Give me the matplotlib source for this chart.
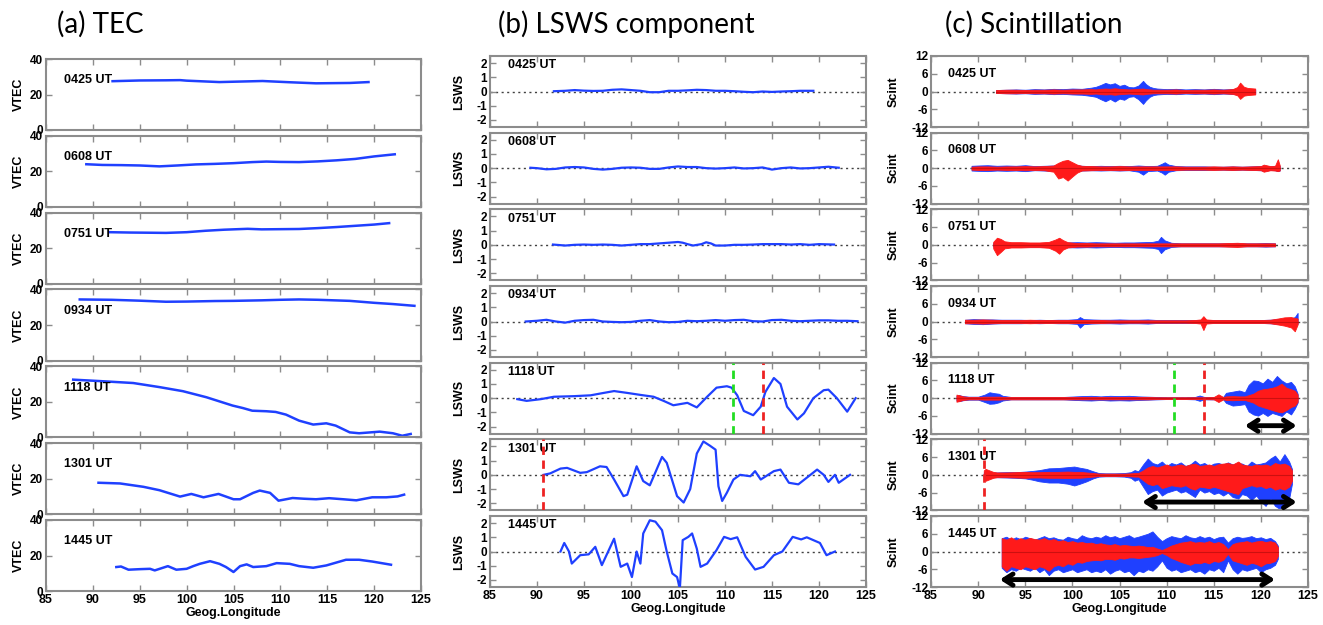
#!/usr/bin/env python

import numpy as np
import matplotlib
matplotlib.use('Agg')
from matplotlib import pyplot as plt

plt.rcParams['font.family'] = ['Liberation Sans', 'DejaVu Sans']
plt.rcParams['font.weight'] = 'bold'
plt.rcParams['axes.labelweight'] = 'bold'
plt.rcParams['font.size'] = 9

W, H = 1323, 625

ut_labels = ['0425 UT', '0608 UT', '0751 UT', '0934 UT', '1118 UT', '1301 UT', '1445 UT']
lon_ticks = [85, 90, 95, 100, 105, 110, 115, 120, 125]

# ---- (a) TEC ----
tec_lon = [
    [92.1, 95, 97.8, 99.3, 100, 103.5, 105, 108.1, 111, 113.8, 117.4, 119.4],
    [89.3, 91, 93, 95, 97.1, 99, 101, 103, 105, 107, 108.5, 110, 112, 114, 116, 118, 120, 122.2],
    [91.8, 94, 96, 97.8, 100, 102, 104, 106.5, 108, 110, 112, 114, 116, 118, 120, 121.6],
    [88.6, 92, 95, 97.8, 100, 103, 105, 108, 110, 112, 114, 117.4, 120, 122, 124.3],
    [87.9, 90.7, 94.3, 97.1, 99.6, 102.1, 104.9, 106, 107.0, 108.5, 109.5, 110.6, 112.0,
     113.5, 114.9, 115.9, 117.4, 118.4, 120.6, 122.0, 123.0, 123.9],
    [90.6, 92.9, 95.4, 97.1, 99.3, 100.5, 101.8, 103.4, 105.0, 105.7, 107.1, 107.8, 108.9,
     109.8, 111.3, 112.5, 113.8, 115.2, 116.7, 118.1, 119.8, 121.3, 122.5, 123.2],
    [92.5, 93.0, 93.8, 95.0, 96.1, 96.6, 98.0, 98.9, 100.0, 100.7, 101.4, 102.5, 103.5, 104.2,
     105.0, 105.7, 106.4, 107.1, 108.5, 109.6, 111.0, 112.0, 113.5, 114.9, 117.0, 118.4, 119.8, 121.8],
]
tec_val = [
    [27.5, 27.9, 28.0, 28.1, 27.8, 27.0, 27.2, 27.6, 26.9, 26.3, 26.5, 27.0],
    [24.0, 23.6, 23.5, 23.3, 22.8, 23.3, 23.9, 24.2, 24.6, 25.2, 25.5, 25.3, 25.2, 25.6, 26.2, 27.0, 28.4, 29.6],
    [29.0, 28.8, 28.7, 28.6, 29.0, 29.8, 30.4, 30.9, 30.6, 30.7, 30.8, 31.3, 31.9, 32.6, 33.3, 34.1],
    [34.4, 34.2, 33.7, 33.1, 33.2, 33.5, 33.6, 33.9, 34.2, 34.4, 34.2, 33.6, 32.5, 31.8, 30.8],
    [32.5, 31.7, 30.6, 28.3, 26.0, 22.6, 17.9, 16.5, 15.0, 14.7, 14.3, 12.8, 9.4,
     7.2, 7.9, 6.6, 2.8, 2.3, 3.2, 2.3, 0.9, 1.9],
    [17.7, 17.3, 15.4, 13.5, 9.9, 11.4, 9.5, 11.4, 8.4, 8.4, 12.0, 13.3, 12.0,
     7.6, 9.1, 8.7, 8.4, 9.0, 8.4, 7.8, 9.5, 9.5, 10.0, 11.0],
    [13.5, 13.8, 12.0, 12.3, 12.5, 11.6, 14.0, 12.0, 12.5, 14.0, 15.3, 16.8, 15.3, 13.5,
     10.7, 14.0, 15.0, 13.5, 14.0, 15.7, 15.3, 14.0, 13.1, 14.4, 17.6, 17.6, 16.6, 14.8],
]

# ---- (b) LSWS component ----
lsws_lon = [
    [91.8, 93, 94, 95, 96, 97, 98, 99, 100, 101, 102, 103, 104, 105, 106, 107, 108, 109, 110,
     111, 112, 113, 114, 115, 116, 117, 118, 119.4],
    [89.3, 90, 91, 92, 93, 94, 95, 96, 97, 98, 99, 100, 101, 102, 103, 104, 105, 106, 107, 108,
     109, 110, 111, 112, 113, 114, 115, 116, 117, 118, 119, 120, 121, 122.1],
    [91.7, 93, 94, 95, 96, 97, 98, 99, 100, 101, 102, 103, 104, 105, 105.5, 106, 106.6, 107.5,
     108, 108.5, 109, 110, 111, 112, 113, 114, 115, 116, 117, 118, 119, 120, 121.6],
    [88.8, 90, 91, 92, 93, 94, 95, 96, 97, 98, 99, 100, 101, 102, 103, 104, 105, 106, 107, 108,
     109, 110, 111, 112, 113, 114, 115, 116, 117, 118, 119, 120, 121, 122, 123, 124.1],
    [87.9, 88.9, 90.4, 91.8, 93.9, 95.7, 97.1, 98.2, 99.6, 101.0, 102.4, 103.5, 104.5, 106.0,
     107.0, 108.1, 109.1, 110.2, 110.7, 111.3, 112.0, 113.0, 113.8, 114.3, 115.2, 115.9, 116.6,
     117.7, 118.4, 119.4, 120.5, 121.0, 121.9, 123.0, 123.9],
    [90.7, 91.4, 92.5, 93.2, 94.6, 95.3, 96.7, 97.4, 98.2, 99.2, 99.6, 100.6, 101.3, 102.0,
     103.3, 103.8, 104.9, 105.6, 106.3, 107.0, 107.7, 108.4, 109.0, 109.3, 109.7, 110.2, 110.9,
     111.6, 112.7, 113.2, 113.8, 115.2, 115.9, 116.8, 117.8, 119.8, 120.5, 121.0, 121.7, 122.1, 123.3],
    [92.5, 92.9, 93.4, 93.7, 94.6, 95.5, 96.2, 96.9, 98.2, 98.9, 99.6, 100.1, 100.6, 101.0,
     101.3, 102.0, 102.6, 103.3, 103.8, 104.4, 104.9, 105.2, 105.5, 106.1, 106.5, 107.0, 107.4,
     108.1, 109.1, 109.9, 110.6, 111.3, 112.2, 113.2, 114.1, 115.2, 116.1, 117.2, 118.1, 118.7,
     119.4, 120.1, 120.8, 121.7],
]
lsws_val = [
    [0.02, 0.05, 0.1, 0.06, 0.04, 0.05, 0.12, 0.15, 0.1, 0.05, -0.05, -0.05, 0.05, 0.05, 0.08,
     0.12, 0.1, 0.05, 0.05, 0.02, -0.02, -0.05, 0.0, -0.03, 0.0, 0.02, 0.05, 0.05],
    [0.03, 0.0, -0.08, -0.05, 0.05, 0.08, 0.05, -0.05, -0.1, -0.05, 0.03, 0.05, 0.03, -0.05,
     -0.05, 0.05, 0.12, 0.08, 0.08, 0.0, -0.03, 0.0, 0.05, -0.02, 0.0, 0.05, -0.1, 0.0, 0.05,
     -0.02, 0.0, 0.05, 0.1, 0.03],
    [0.02, -0.05, 0.0, 0.02, 0.0, 0.02, 0.0, -0.05, 0.0, 0.05, 0.05, 0.1, 0.15, 0.2, 0.15, 0.05,
     -0.05, 0.05, 0.18, 0.1, -0.05, -0.05, 0.0, 0.0, 0.02, 0.05, 0.05, 0.05, 0.02, 0.05, 0.0,
     0.05, 0.02],
    [0.0, 0.05, 0.12, 0.0, -0.08, 0.05, 0.1, 0.12, 0.0, -0.03, -0.05, -0.03, 0.05, 0.1, 0.0,
     -0.05, -0.03, 0.05, 0.02, 0.05, 0.1, 0.05, 0.1, 0.12, 0.02, 0.0, 0.1, 0.12, 0.05, 0.02,
     0.05, 0.08, 0.08, 0.05, 0.05, 0.02],
    [-0.07, -0.19, -0.07, 0.1, 0.14, 0.2, 0.37, 0.5, 0.37, 0.23, 0.1, -0.2, -0.5, -0.33,
     -0.65, 0.1, 0.74, 0.84, 0.74, 0.2, -0.9, -1.2, -0.6, 0.44, 1.42, 1.0, -0.6,
     -1.5, -1.07, 0.0, 0.56, 0.6, 0.0, -0.95, 0.0],
    [0.0, 0.1, 0.44, 0.49, 0.14, 0.19, 0.6, 0.55, -0.33, -1.5, -1.4, 0.6, -0.44, -0.74,
     1.26, 0.85, -1.5, -1.95, -1.0, 1.5, 2.35, 2.05, 1.77, -0.8, -1.84, -1.26, -0.33,
     0.0, -0.1, 0.26, -0.33, 0.26, 0.37, -0.56, -0.67, 0.37, 0.0, -0.5, 0.0, -0.56, 0.0],
    [0.0, 0.6, 0.0, -0.85, -0.26, -0.2, 0.33, -0.96, 0.9, -1.08, -0.85, -1.8, 0.0, -0.85,
     1.27, 2.2, 2.1, 1.5, 0.0, -1.55, -1.8, -2.6, 0.8, 1.03, 1.27, 0.2, -1.08,
     -0.85, 0.1, 1.03, 0.87, 1.0, -0.38, -1.27, -1.08, -0.26, 0.0, 1.03, 0.85, 1.0,
     0.8, 0.6, -0.26, 0.0],
]

# ---- (c) Scintillation: envelopes of the two traces (blue, red), lower as magnitude ----
sc_lon = [
    [91.9, 93, 94, 95, 96, 97, 98, 99, 100, 101,
     102, 102.5, 103, 103.5, 104, 104.5, 105, 105.5, 106, 106.5,
     107, 107.5, 107.8, 108.2, 108.6, 109, 110, 111, 112, 113,
     114, 115, 116, 117, 117.5, 117.8, 118.2, 118.6, 119.4],
    [89.3, 90, 91, 92, 93, 94, 95, 96, 97, 98,
     98.5, 99, 99.5, 100, 100.5, 101, 102, 103, 104, 105,
     106, 107, 107.5, 108, 109, 109.5, 109.8, 110.2, 111, 112,
     113, 114, 115, 116, 117, 118, 119, 120, 120.3, 121,
     121.5, 121.8, 122.0],
    [91.6, 92.0, 92.4, 92.8, 93.5, 94.5, 95.5, 96.5, 97.5, 98.2,
     98.6, 99.0, 99.5, 100.5, 101.5, 102.5, 103.5, 104.5, 105.5, 106.5,
     107.5, 108.5, 109.1, 109.4, 109.8, 110.5, 111.5, 112.5, 113.5, 114.5,
     115.5, 116.5, 117.5, 118.5, 119.5, 120.5, 121.5],
    [88.6, 89.5, 90.5, 91.5, 92.5, 93.5, 94.5, 95.5, 96.5, 97.5,
     98.5, 99.5, 100.5, 100.8, 101.2, 102, 103, 104, 105, 106,
     107, 108, 109, 110, 111, 112, 113, 113.6, 113.9, 114.2,
     115, 116, 117, 118, 119, 120, 121, 121.8, 122.5, 123.2,
     123.6, 123.9],
    [87.7, 88.0, 88.4, 89, 90, 90.7, 91.2, 91.7, 92.2, 92.6,
     93.5, 95, 97, 99, 101, 102, 103, 104, 105, 106,
     107, 108, 109, 110, 111, 112, 113, 113.5, 114, 115,
     115.5, 116, 116.3, 117, 117.7, 118.3, 118.7, 119.2, 119.7, 120.2,
     120.7, 121.2, 121.7, 122.2, 122.7, 123.2, 123.6, 123.9],
    [90.6, 90.8, 91.2, 91.6, 92, 93, 94, 95, 95.7, 96.5,
     97.5, 98.5, 99.5, 100.2, 100.8, 101.5, 102.2, 102.8, 103.5, 104.5,
     105.5, 106.2, 106.6, 107.0, 107.5, 108.0, 108.5, 109.0, 109.5, 110.0,
     110.5, 111, 111.5, 112, 112.5, 113, 113.5, 114, 114.5, 115,
     115.5, 116, 116.5, 117, 117.6, 118, 118.5, 119, 119.5, 120,
     120.5, 121, 121.5, 122, 122.5, 123.0, 123.3],
    [92.5, 93.0, 93.5, 94.0, 94.5, 95.0, 95.5, 96.0, 96.5, 97.0,
     97.5, 98.0, 98.5, 99.0, 99.5, 100.0, 100.5, 101.0, 101.5, 102.0,
     102.5, 103.0, 103.5, 104.0, 104.5, 105.0, 105.5, 106.0, 106.5, 107.0,
     107.5, 108.0, 108.5, 109.0, 109.5, 110.0, 110.5, 111.0, 111.5, 112.0,
     112.5, 113.0, 113.5, 114.0, 114.5, 115.0, 115.5, 116.0, 116.5, 117.0,
     117.5, 118.0, 118.5, 119.0, 119.5, 120.0, 120.5, 121.0, 121.5, 121.8],
]
sc_blue_up = [
    [0.5, 0.6, 0.7, 0.6, 0.8, 0.7, 0.9, 0.8, 1.0, 0.9,
     1.3, 1.6, 2.2, 2.9, 2.4, 2.8, 1.9, 2.3, 1.5, 1.4,
     2.0, 3.6, 2.5, 1.6, 1.2, 1.0, 0.8, 0.9, 0.7, 0.8,
     0.7, 0.9, 0.7, 0.8, 1.0, 1.2, 1.0, 0.9, 0.7],
    [0.8, 0.9, 1.0, 0.8, 0.9, 0.8, 1.0, 0.7, 0.8, 0.9,
     1.0, 1.2, 1.3, 1.2, 1.0, 0.8, 0.7, 0.8, 0.7, 0.8,
     0.7, 0.9, 0.8, 0.7, 0.8, 1.5, 2.0, 1.2, 0.7, 0.6,
     0.6, 0.6, 0.5, 0.5, 0.6, 0.5, 0.6, 0.7, 0.9, 0.6,
     0.7, 1.0, 0.8],
    [0.6, 0.8, 0.8, 0.7, 0.6, 0.6, 0.6, 0.6, 0.7, 0.9,
     1.0, 0.9, 0.8, 0.9, 0.8, 0.9, 0.8, 0.7, 0.8, 0.8,
     0.9, 1.0, 1.4, 2.7, 1.5, 0.7, 0.5, 0.5, 0.5, 0.5,
     0.5, 0.5, 0.5, 0.5, 0.5, 0.6, 0.5],
    [0.6, 0.8, 0.7, 0.7, 0.6, 0.6, 0.6, 0.5, 0.6, 0.5,
     0.6, 0.6, 0.8, 1.5, 0.8, 0.7, 0.6, 0.6, 0.7, 0.6,
     0.6, 0.7, 0.5, 0.5, 0.5, 0.5, 0.5, 0.5, 0.6, 0.5,
     0.5, 0.5, 0.5, 0.5, 0.5, 0.5, 0.6, 0.8, 0.9, 1.0,
     1.5, 2.9],
    [0.8, 1.0, 0.7, 0.5, 0.5, 1.2, 2.0, 1.7, 1.5, 0.8,
     0.4, 0.4, 0.4, 0.4, 0.7, 0.8, 0.6, 0.8, 0.7, 0.8,
     0.6, 0.5, 0.4, 0.3, 0.3, 0.3, 0.4, 0.9, 0.4, 0.4,
     0.5, 0.4, 1.8, 2.2, 2.6, 2.0, 4.5, 6.0, 5.8, 5.0,
     6.6, 5.5, 7.5, 6.0, 5.0, 5.5, 4.0, 1.5],
    [0.8, 1.5, 1.0, 0.8, 0.8, 0.9, 0.9, 1.1, 1.3, 1.6,
     2.2, 2.3, 2.6, 2.8, 2.4, 2.0, 1.2, 0.6, 0.5, 0.5,
     0.6, 0.9, 1.6, 1.2, 3.5, 5.5, 4.0, 3.5, 4.5, 3.0,
     4.0, 3.5, 4.2, 3.0, 3.5, 4.8, 3.5, 4.0, 3.0, 3.8,
     4.0, 3.5, 4.2, 3.5, 4.0, 3.8, 3.0, 4.5, 3.5, 3.8,
     4.2, 5.5, 6.5, 4.5, 7.0, 4.5, 2.0],
    [4.5, 5.0, 4.0, 4.8, 4.2, 5.0, 4.5, 4.0, 4.6, 5.2,
     4.5, 4.8, 4.2, 4.0, 5.0, 4.5, 4.2, 5.5, 4.8, 4.5,
     5.0, 4.6, 5.5, 4.8, 5.2, 4.5, 5.0, 5.5, 4.6, 5.0,
     5.5, 6.0, 6.8, 5.0, 3.5, 4.5, 5.2, 4.8, 4.5, 5.5,
     4.8, 4.5, 5.2, 4.6, 5.0, 4.2, 4.8, 5.0, 3.0, 4.5,
     5.0, 4.6, 4.8, 5.2, 4.5, 4.8, 4.2, 4.6, 3.5, 2.0],
]
sc_blue_dn = [
    [0.5, 0.6, 0.7, 0.6, 0.8, 0.7, 0.9, 0.8, 1.0, 1.1,
     1.5, 1.8, 2.6, 3.3, 2.5, 3.4, 2.4, 2.8, 1.8, 1.6,
     2.6, 4.2, 3.0, 1.8, 1.2, 1.0, 0.8, 0.9, 0.7, 0.8,
     0.7, 0.9, 0.7, 0.8, 1.0, 1.2, 1.0, 0.9, 0.7],
    [0.8, 0.9, 1.0, 0.8, 0.9, 0.8, 1.0, 0.7, 0.8, 0.9,
     1.0, 1.2, 1.3, 1.2, 1.0, 0.8, 0.7, 0.8, 0.7, 0.8,
     0.7, 1.2, 2.2, 1.0, 0.8, 1.5, 2.2, 1.2, 0.7, 0.6,
     0.6, 0.6, 0.5, 0.5, 0.6, 0.5, 0.6, 0.7, 0.9, 0.6,
     0.7, 1.0, 0.8],
    [0.6, 0.8, 0.8, 0.7, 0.6, 0.6, 0.6, 0.6, 0.7, 0.9,
     1.0, 0.9, 0.8, 0.9, 0.8, 0.9, 0.8, 0.7, 0.8, 0.8,
     0.9, 1.0, 1.4, 2.8, 1.5, 0.7, 0.5, 0.5, 0.5, 0.5,
     0.5, 0.5, 0.5, 0.5, 0.5, 0.6, 0.5],
    [0.6, 0.8, 0.9, 0.7, 0.6, 0.6, 0.6, 0.5, 0.6, 0.5,
     0.6, 0.6, 0.8, 2.1, 0.9, 0.7, 0.6, 0.6, 0.7, 0.6,
     0.6, 0.7, 0.5, 0.5, 0.5, 0.5, 0.5, 0.5, 0.6, 0.5,
     0.5, 0.5, 0.5, 0.5, 0.5, 0.5, 0.6, 0.8, 0.9, 1.2,
     1.0, 0.8],
    [0.8, 1.0, 0.7, 0.5, 0.5, 1.3, 1.9, 1.8, 1.4, 0.8,
     0.4, 0.4, 0.4, 0.4, 0.7, 0.8, 0.6, 0.8, 0.7, 0.8,
     0.6, 0.5, 0.4, 0.3, 0.3, 0.3, 0.4, 0.9, 0.4, 0.4,
     0.5, 0.4, 1.6, 2.5, 2.3, 2.0, 4.5, 5.5, 5.9, 5.0,
     6.0, 5.0, 5.5, 6.0, 4.5, 5.5, 3.5, 1.5],
    [0.8, 1.2, 1.0, 0.8, 0.8, 0.9, 1.0, 1.2, 1.6, 2.2,
     2.6, 2.6, 3.0, 3.6, 3.0, 2.2, 1.2, 0.6, 0.5, 0.5,
     0.6, 1.0, 2.0, 1.5, 4.0, 6.5, 5.5, 5.0, 7.0, 6.0,
     5.5, 5.0, 6.0, 5.5, 6.5, 7.5, 5.0, 6.0, 5.5, 6.5,
     6.0, 7.0, 6.0, 7.5, 8.0, 6.5, 7.0, 8.5, 7.0, 9.0,
     10.5, 8.0, 10.5, 11.5, 10.0, 8.0, 3.0],
    [5.5, 7.0, 6.0, 6.5, 5.5, 6.0, 6.5, 5.5, 7.0, 6.0,
     8.0, 6.5, 6.0, 7.0, 6.5, 6.0, 7.0, 6.5, 6.0, 7.0,
     6.5, 7.0, 6.0, 7.5, 6.5, 6.0, 7.0, 6.5, 8.0, 6.5,
     7.0, 6.0, 6.5, 5.0, 3.0, 5.5, 6.5, 6.0, 7.0, 6.5,
     6.0, 7.0, 6.5, 7.5, 6.0, 6.5, 5.5, 7.0, 3.0, 6.0,
     7.5, 6.0, 6.5, 6.0, 5.5, 7.0, 6.0, 5.5, 4.5, 2.5],
]
sc_red_up = [
    [0.5, 0.6, 0.6, 0.5, 0.6, 0.6, 0.7, 0.6, 0.7, 0.7,
     0.8, 0.7, 0.9, 1.0, 0.9, 1.1, 0.9, 0.8, 0.7, 0.8,
     0.9, 1.0, 0.8, 0.7, 0.6, 0.6, 0.6, 0.7, 0.5, 0.6,
     0.6, 0.7, 0.6, 0.8, 1.5, 3.0, 1.6, 1.2, 1.0],
    [0.5, 0.6, 0.6, 0.5, 0.6, 0.6, 0.7, 0.6, 0.7, 0.9,
     1.8, 2.5, 2.8, 2.0, 1.2, 0.8, 0.7, 0.6, 0.6, 0.7,
     0.6, 0.6, 0.6, 0.6, 0.6, 0.6, 0.6, 0.6, 0.6, 0.5,
     0.5, 0.5, 0.6, 0.5, 0.6, 0.5, 0.6, 0.7, 1.2, 0.7,
     0.8, 3.0, 1.0],
    [1.0, 2.4, 2.0, 1.2, 0.9, 0.9, 0.8, 0.8, 1.0, 1.8,
     2.4, 1.6, 0.9, 0.6, 0.6, 0.5, 0.5, 0.5, 0.5, 0.5,
     0.5, 0.5, 0.5, 0.5, 0.5, 0.5, 0.5, 0.5, 0.5, 0.5,
     0.5, 0.6, 0.7, 0.5, 0.5, 0.5, 0.5],
    [0.6, 0.6, 0.7, 0.6, 0.5, 0.5, 0.5, 0.6, 0.5, 0.5,
     0.5, 0.5, 0.5, 0.5, 0.5, 0.5, 0.5, 0.4, 0.4, 0.4,
     0.4, 0.4, 0.4, 0.4, 0.4, 0.4, 0.5, 0.7, 1.8, 0.7,
     0.5, 0.5, 0.5, 0.5, 0.5, 0.5, 0.6, 1.0, 1.4, 1.5,
     1.2, 1.0],
    [1.2, 1.0, 0.6, 0.4, 0.4, 0.5, 0.5, 0.5, 0.5, 0.4,
     0.4, 0.4, 0.4, 0.4, 0.4, 0.4, 0.4, 0.4, 0.4, 0.4,
     0.4, 0.4, 0.3, 0.3, 0.3, 0.3, 0.3, 0.3, 0.3, 0.4,
     1.3, 0.4, 0.6, 0.7, 0.6, 0.6, 1.0, 1.5, 2.5, 3.0,
     3.2, 3.5, 4.0, 4.9, 3.5, 3.0, 2.5, 1.2],
    [1.5, 2.0, 1.5, 1.0, 0.8, 0.8, 0.9, 1.0, 0.9, 0.9,
     1.0, 1.0, 1.1, 1.0, 1.0, 0.8, 0.6, 0.4, 0.4, 0.4,
     0.4, 0.5, 0.6, 0.6, 1.5, 2.5, 3.0, 2.5, 3.0, 3.5,
     2.8, 3.2, 3.5, 3.0, 3.5, 3.8, 3.0, 3.2, 3.5, 3.0,
     3.6, 3.8, 4.0, 3.5, 4.5, 3.5, 3.2, 3.0, 3.5, 3.2,
     3.5, 3.0, 4.0, 3.5, 3.8, 3.0, 1.5],
    [4.5, 4.0, 4.8, 3.8, 4.5, 4.0, 4.6, 4.2, 4.0, 4.5,
     3.8, 4.2, 3.5, 3.8, 3.2, 3.5, 3.0, 3.2, 2.8, 3.0,
     2.5, 2.8, 2.4, 2.2, 2.5, 2.0, 2.2, 2.0, 1.8, 2.0,
     1.8, 1.5, 1.6, 1.0, 0.5, 1.2, 2.0, 2.5, 3.0, 3.2,
     3.5, 3.0, 3.2, 3.0, 3.5, 2.8, 3.2, 2.5, 0.8, 2.5,
     3.0, 3.2, 3.5, 3.0, 3.4, 3.6, 3.2, 3.5, 3.0, 1.5],
]
sc_red_dn = [
    [0.5, 0.6, 0.6, 0.5, 0.6, 0.6, 0.7, 0.6, 0.7, 0.7,
     0.8, 0.7, 0.9, 1.0, 0.9, 1.1, 0.9, 0.8, 0.7, 0.8,
     0.9, 1.0, 0.8, 0.7, 0.6, 0.6, 0.6, 0.7, 0.5, 0.6,
     0.6, 0.7, 0.6, 0.8, 1.3, 2.5, 1.4, 1.2, 1.0],
    [0.5, 0.6, 0.6, 0.5, 0.6, 0.6, 0.7, 0.6, 0.7, 1.2,
     3.5, 3.0, 4.2, 2.8, 1.5, 0.8, 0.7, 0.6, 0.6, 0.7,
     0.6, 0.6, 0.6, 0.6, 0.6, 0.6, 0.6, 0.6, 0.6, 0.5,
     0.5, 0.5, 0.6, 0.5, 0.6, 0.5, 0.6, 0.7, 1.2, 0.7,
     0.8, 1.0, 0.8],
    [1.2, 3.5, 2.4, 1.2, 0.9, 0.9, 0.8, 0.8, 1.0, 2.0,
     3.0, 1.6, 0.9, 0.6, 0.6, 0.5, 0.5, 0.5, 0.5, 0.5,
     0.5, 0.5, 0.5, 0.5, 0.5, 0.5, 0.5, 0.5, 0.5, 0.5,
     0.5, 0.6, 0.7, 0.5, 0.5, 0.5, 0.5],
    [0.6, 0.6, 0.7, 0.6, 0.5, 0.5, 0.5, 0.6, 0.5, 0.5,
     0.5, 0.5, 0.5, 0.5, 0.5, 0.5, 0.5, 0.4, 0.4, 0.4,
     0.4, 0.4, 0.4, 0.4, 0.4, 0.4, 0.5, 0.7, 2.9, 0.7,
     0.5, 0.5, 0.5, 0.5, 0.5, 0.5, 0.6, 1.0, 1.4, 2.0,
     3.3, 1.0],
    [1.2, 1.0, 0.6, 0.4, 0.4, 0.5, 0.5, 0.5, 0.5, 0.4,
     0.4, 0.4, 0.4, 0.4, 0.4, 0.4, 0.4, 0.4, 0.4, 0.4,
     0.4, 0.4, 0.3, 0.3, 0.3, 0.3, 0.3, 0.3, 0.3, 0.4,
     1.3, 0.4, 0.6, 0.7, 0.6, 0.6, 1.0, 1.5, 2.5, 3.0,
     3.5, 4.0, 4.5, 4.8, 4.0, 3.0, 2.5, 1.2],
    [1.5, 2.0, 1.5, 1.0, 0.8, 0.8, 0.9, 1.0, 0.9, 0.9,
     1.0, 1.0, 1.1, 1.0, 1.0, 0.8, 0.6, 0.4, 0.4, 0.4,
     0.4, 0.5, 0.6, 0.6, 1.8, 3.0, 3.5, 3.0, 4.5, 4.0,
     3.5, 3.8, 4.0, 3.5, 4.5, 5.0, 4.0, 4.2, 4.5, 4.0,
     4.5, 5.0, 5.5, 6.0, 6.5, 4.5, 4.0, 3.5, 4.0, 3.8,
     4.5, 4.0, 5.0, 4.5, 5.0, 4.0, 2.0],
    [5.0, 6.5, 5.0, 5.5, 6.0, 5.0, 5.5, 6.0, 5.0, 5.5,
     6.5, 5.0, 4.5, 5.0, 4.0, 4.5, 3.5, 3.8, 3.2, 3.0,
     2.8, 3.0, 2.5, 2.5, 2.8, 2.2, 2.4, 2.0, 2.0, 2.2,
     2.0, 1.8, 1.6, 1.2, 0.5, 1.2, 2.2, 2.8, 3.5, 4.0,
     4.5, 3.8, 4.0, 3.5, 4.0, 3.2, 3.5, 2.8, 0.8, 3.0,
     3.5, 4.0, 4.5, 3.8, 4.2, 5.0, 4.0, 3.8, 3.2, 1.5],
]

# double-headed arrows (row index, start lon, end lon, level)
arrow_rows = [4, 5, 6]
arrow_start = [118.3, 107.4, 92.3]
arrow_end = [123.8, 123.8, 121.5]
arrow_level = [-9.3, -9.2, -9.5]

# vertical dashed markers (row index, lon, colour)
mark_rows = [4, 4, 5]
mark_lon = [110.8, 114.0, 90.6]
mark_color = ['#22dd22', '#ee2222', '#ee2222']

BLUE = '#1f40ff'
RED = '#ff1a1a'
FRAME = '#8c8c8c'

# pixel layout of the three columns: left, right, top of first row, bottom of last row
columns = [(46, 421, 59, 591), (490, 866, 56, 587), (931, 1308, 56, 587)]
row_h = 71

fig = plt.figure(figsize=(W / 100, H / 100), dpi=100)


def make_axes(col, row, yticks):
    l, r, t, b = columns[col]
    pitch = (b - t - row_h) / 6.0
    top = t + row * pitch
    ax = fig.add_axes([l / W, 1 - (top + row_h) / H, (r - l) / W, row_h / H])
    ax.set_xlim(85, 125)
    ax.set_xticks(lon_ticks)
    ax.set_yticks(yticks)
    ax.set_yticklabels([str(v) for v in yticks], fontweight='bold', fontsize=8.5)
    ax.tick_params(direction='in', top=True, right=True, length=4, width=1,
                   color=FRAME, pad=2)
    for s in ax.spines.values():
        s.set_color(FRAME)
        s.set_linewidth(1.5)
    if row < 6:
        ax.set_xticklabels([])
    else:
        ax.set_xticklabels([str(v) for v in lon_ticks], fontweight='bold', fontsize=9)
        ax.set_xlabel('Geog.Longitude', fontsize=9, fontweight='bold', labelpad=1)
    return ax


label_x = [0.048, 0.048, 0.045]
label_y = [0.70, 0.87, 0.75]
ylab_x = [-0.056, -0.066, -0.082]

for i in range(7):
    # (a)
    ax = make_axes(0, i, [0, 20, 40])
    ax.plot(tec_lon[i], tec_val[i], color=BLUE, lw=1.8)
    ax.set_ylim(0, 40)
    ax.set_ylabel('VTEC', fontsize=9, fontweight='bold')
    ax.yaxis.set_label_coords(ylab_x[0], 0.5)
    ax.text(label_x[0], label_y[0], ut_labels[i], transform=ax.transAxes,
            va='center', ha='left', fontsize=9, fontweight='bold')

    # (b)
    ax = make_axes(1, i, [-2, -1, 0, 1, 2])
    ax.axhline(0, color='#404040', lw=1, ls=(0, (1.5, 2.5)), zorder=1)
    ax.plot(lsws_lon[i], lsws_val[i], color=BLUE, lw=1.6, zorder=3)
    ax.set_ylim(-2.5, 2.5)
    ax.set_ylabel('LSWS', fontsize=9, fontweight='bold')
    ax.yaxis.set_label_coords(ylab_x[1], 0.5)
    ax.text(label_x[1], label_y[1], ut_labels[i], transform=ax.transAxes,
            va='center', ha='left', fontsize=9, fontweight='bold')
    for k in range(len(mark_rows)):
        if mark_rows[k] == i:
            ax.axvline(mark_lon[k], color=mark_color[k], lw=2, ls=(0, (3, 2)), zorder=4)

    # (c)
    ax = make_axes(2, i, [-12, -6, 0, 6, 12])
    ax.axhline(0, color='#404040', lw=1, ls=(0, (1.5, 2.5)), zorder=1)
    lon = np.array(sc_lon[i])
    ax.fill_between(lon, -np.array(sc_blue_dn[i]), sc_blue_up[i], color=BLUE, lw=0.6,
                    edgecolor=BLUE, zorder=2)
    ax.fill_between(lon, -np.array(sc_red_dn[i]), sc_red_up[i], color=RED, lw=0.6,
                    edgecolor=RED, zorder=3)
    ax.plot(lon, np.zeros(len(lon)), color='#cc1010', lw=0.8, zorder=3)
    ax.set_ylim(-12, 12)
    ax.set_ylabel('Scint', fontsize=9, fontweight='bold')
    ax.yaxis.set_label_coords(ylab_x[2], 0.5)
    ax.text(label_x[2], label_y[2], ut_labels[i], transform=ax.transAxes,
            va='center', ha='left', fontsize=9, fontweight='bold')
    for k in range(len(mark_rows)):
        if mark_rows[k] == i:
            ax.axvline(mark_lon[k], color=mark_color[k], lw=2, ls=(0, (3, 2)), zorder=4)
    for k in range(len(arrow_rows)):
        if arrow_rows[k] == i:
            ax.annotate('', xy=(arrow_end[k], arrow_level[k]),
                        xytext=(arrow_start[k], arrow_level[k]),
                        arrowprops=dict(arrowstyle='<->,head_length=0.7,head_width=0.45',
                                        lw=3.5, color='black', shrinkA=0, shrinkB=0),
                        zorder=5)

title_kw = dict(fontsize=20, fontweight='normal', family=['Lato', 'DejaVu Sans'], va='center')
fig.text(57 / W, 1 - 24 / H, '(a) TEC', **title_kw)
fig.text(498 / W, 1 - 24 / H, '(b) LSWS component', **title_kw)
fig.text(945 / W, 1 - 24 / H, '(c) Scintillation', **title_kw)

fig.savefig('out.png', dpi=100)
